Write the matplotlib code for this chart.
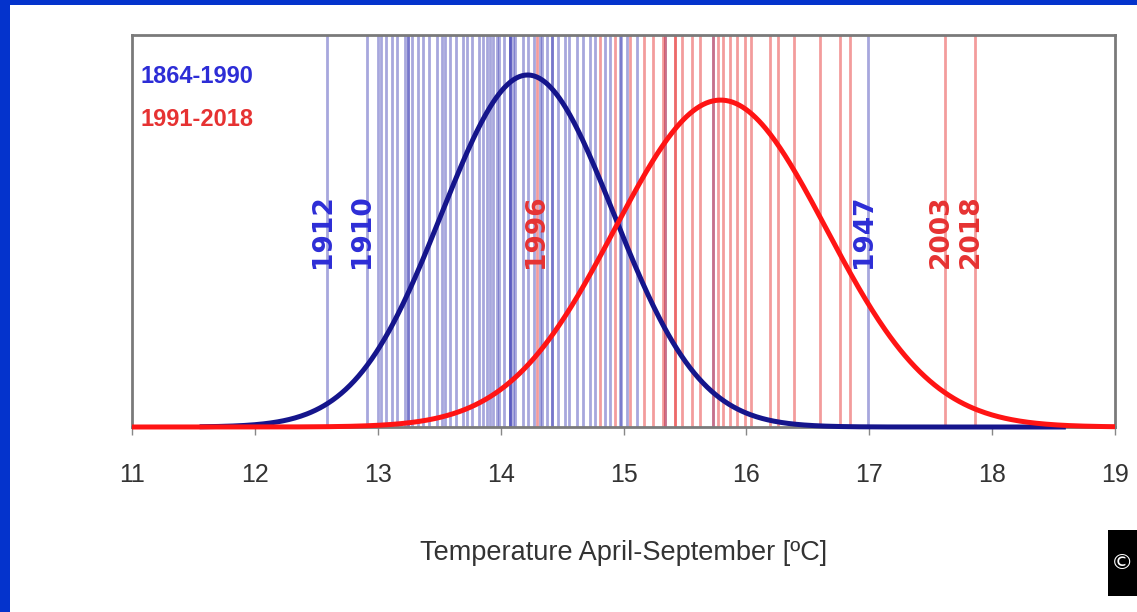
import numpy as np
import matplotlib
matplotlib.use("Agg")
import matplotlib.pyplot as plt
from matplotlib.patches import Rectangle

# ---------------- data ----------------
blue_temps = [12.59, 12.91, 13.00, 13.03, 13.07, 13.12, 13.16, 13.22, 13.25, 13.25,
              13.28, 13.33, 13.37, 13.42, 13.48, 13.52, 13.55, 13.59, 13.64, 13.69,
              13.73, 13.77, 13.82, 13.86, 13.89, 13.91, 13.94, 13.97, 13.99, 14.03,
              14.08, 14.08, 14.08, 14.10, 14.12, 14.18, 14.22, 14.27, 14.32, 14.34,
              14.38, 14.42, 14.42, 14.47, 14.52, 14.56, 14.62, 14.67, 14.73, 14.77,
              14.85, 14.89, 14.97, 14.98, 15.03, 15.11, 15.34, 15.73, 16.99]
red_temps = [14.30, 14.81, 14.93, 15.05, 15.17, 15.24, 15.32, 15.34, 15.42, 15.42,
             15.48, 15.56, 15.62, 15.73, 15.77, 15.81, 15.87, 15.92, 15.99, 16.04,
             16.19, 16.26, 16.39, 16.60, 16.76, 16.84, 17.62, 17.86]

# fitted normal curves: mean, sd, peak height (relative), x-range
blue_fit = dict(mu=14.22, sd=0.70, peak=0.898, xmin=11.55, xmax=18.6)
red_fit = dict(mu=15.79, sd=0.86, peak=0.834, xmin=11.0, xmax=19.0)

period_labels = ["1864-1990", "1991-2018"]

label_years = ["1912", "1910", "1996", "1947", "2003", "2018"]
label_temps = [12.59, 12.91, 14.32, 16.99, 17.62, 17.86]
label_series = ["blue", "blue", "red", "blue", "red", "red"]

xticks = [11, 12, 13, 14, 15, 16, 17, 18, 19]
xlabel = "Temperature April-September [ºC]"

# ---------------- styling ----------------
NAVY = "#15158c"
RED = "#ff1414"
BLUE_LINE = "#3c3cb4"
RED_LINE = "#e83a3a"
BLUE_TXT = "#2d2dd6"
RED_TXT = "#e63232"
narrow = ["Liberation Sans Narrow", "Liberation Sans", "DejaVu Sans"]

W, H = 1137, 612
fig = plt.figure(figsize=(W / 100, H / 100), dpi=100)
fig.patch.set_facecolor("white")

# blue frame
fig.patches.append(Rectangle((0, 0), 10 / W, 1, transform=fig.transFigure,
                             facecolor="#0433cc", edgecolor="none", zorder=0))
fig.patches.append(Rectangle((0, 1 - 5 / H), 1, 5 / H, transform=fig.transFigure,
                             facecolor="#0433cc", edgecolor="none", zorder=0))

ax = fig.add_axes([132 / W, 1 - 427 / H, (1115 - 132) / W, (427 - 35) / H])
ax.set_xlim(11, 19)
ax.set_ylim(0, 1)

for t in blue_temps:
    ax.axvline(t, color=BLUE_LINE, lw=2.0, alpha=0.45, zorder=1)
for t in red_temps:
    ax.axvline(t, color=RED_LINE, lw=2.0, alpha=0.5, zorder=1)

def curve(fit):
    x = np.linspace(fit["xmin"], fit["xmax"], 600)
    y = fit["peak"] * np.exp(-0.5 * ((x - fit["mu"]) / fit["sd"]) ** 2)
    return x, y

xb, yb = curve(blue_fit)
xr, yr = curve(red_fit)
ax.plot(xb, yb, color=NAVY, lw=3.6, zorder=3, clip_on=False, solid_capstyle="butt")
ax.plot(xr, yr, color=RED, lw=3.6, zorder=4, clip_on=False, solid_capstyle="butt")

for yr_lab, t, s in zip(label_years, label_temps, label_series):
    ax.text(t - 0.035, 0.50, yr_lab, rotation=90, ha="center", va="center",
            color=BLUE_TXT if s == "blue" else RED_TXT, fontsize=19,
            fontweight="bold", family=["DejaVu Sans"], zorder=5)

ax.text(0.009, 0.895, period_labels[0], transform=ax.transAxes, color=BLUE_TXT,
        fontsize=17, fontweight="bold", family=narrow, va="center", ha="left")
ax.text(0.009, 0.785, period_labels[1], transform=ax.transAxes, color=RED_TXT,
        fontsize=17, fontweight="bold", family=narrow, va="center", ha="left")

ax.set_yticks([])
ax.set_xticks(xticks)
ax.set_xticklabels([str(v) for v in xticks], family=narrow, fontsize=18, color="#333333")
ax.tick_params(axis="x", direction="out", length=6, width=1, color="#888888", pad=20)
for sp in ["top", "left", "right", "bottom"]:
    ax.spines[sp].set_color("#7a7a7a")
    ax.spines[sp].set_linewidth(2)
ax.set_xlabel(xlabel, family=narrow, fontsize=19.5, color="#333333", labelpad=38)

# small licence badge at bottom right
fig.patches.append(Rectangle((1108 / W, 1 - 596 / H), 40 / W, 66 / H,
                             transform=fig.transFigure, facecolor="black",
                             edgecolor="none"))
fig.text(1111 / W, 1 - 563 / H, "©", color="white", fontsize=16, va="center",
         ha="left", family=["DejaVu Sans"])

fig.savefig("out.png", dpi=100)
